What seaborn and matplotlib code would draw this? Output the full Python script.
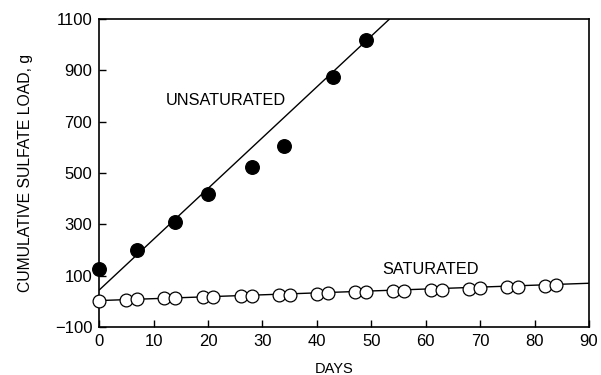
import numpy as np
import pandas as pd
import matplotlib
matplotlib.use("Agg")
import matplotlib.pyplot as plt
import seaborn as sns

# Data
unsat_days = [0, 7, 14, 20, 28, 34, 43, 49]
unsat_load = [125, 200, 310, 420, 525, 605, 875, 1020]

sat_days = [0, 5, 7, 12, 14, 19, 21, 26, 28, 33, 35, 40, 42, 47, 49,
            54, 56, 61, 63, 68, 70, 75, 77, 82, 84]
sat_load = [0, 6, 9, 12, 13, 15, 17, 20, 21, 24, 26, 30, 31, 35, 36,
            40, 41, 45, 46, 50, 51, 55, 56, 60, 62]

# Regression lines as drawn (intercept, slope)
unsat_fit = (44, 19.8)
sat_fit = (3, 0.75)

x_ticks = [0, 10, 20, 30, 40, 50, 60, 70, 80, 90]
y_ticks = [-100, 100, 300, 500, 700, 900, 1100]

sns.set_theme(style="white")
plt.rcParams['font.family'] = ['Liberation Sans', 'DejaVu Sans']
plt.rcParams['text.color'] = 'black'
plt.rcParams['axes.labelcolor'] = 'black'

fig = plt.figure(figsize=(6.01, 3.75), dpi=100)
ax = fig.add_axes([0.165, 0.128, 0.815, 0.821])

df_u = pd.DataFrame({"DAYS": unsat_days, "LOAD": unsat_load})
df_s = pd.DataFrame({"DAYS": sat_days, "LOAD": sat_load})

# fit lines
xu = np.array([0, (1100 - unsat_fit[0]) / unsat_fit[1]])
xs = np.array([0, 90])
sns.lineplot(x=xu, y=unsat_fit[0] + unsat_fit[1] * xu, ax=ax, color="black", lw=1.0)
sns.lineplot(x=xs, y=sat_fit[0] + sat_fit[1] * xs, ax=ax, color="black", lw=1.0)

sns.scatterplot(data=df_u, x="DAYS", y="LOAD", ax=ax, color="black",
                s=95, edgecolor="black", linewidth=1, zorder=3, clip_on=False)
sns.scatterplot(data=df_s, x="DAYS", y="LOAD", ax=ax, facecolor="white",
                s=85, edgecolor="black", linewidth=0.9, zorder=3, clip_on=False)

ax.set_xlim(0, 90)
ax.set_ylim(-100, 1100)
ax.set_xticks(x_ticks)
ax.set_yticks(y_ticks)
ax.tick_params(direction="in", length=5, width=1, labelsize=12, colors="black",
               left=True, bottom=True, pad=5)
for sp in ax.spines.values():
    sp.set_color("black")
    sp.set_linewidth(1.2)

ax.set_xlabel("DAYS", fontsize=10.5)
ax.set_ylabel("CUMULATIVE SULFATE LOAD, g", fontsize=11.3)
ax.xaxis.set_label_coords(0.48, -0.115)
ax.yaxis.set_label_coords(-0.135, 0.5)

ax.text(23.3, 784, "UNSATURATED", ha="center", va="center", fontsize=11.8)
ax.text(60.8, 126, "SATURATED", ha="center", va="center", fontsize=11.8)

fig.savefig("out.png", dpi=100)
